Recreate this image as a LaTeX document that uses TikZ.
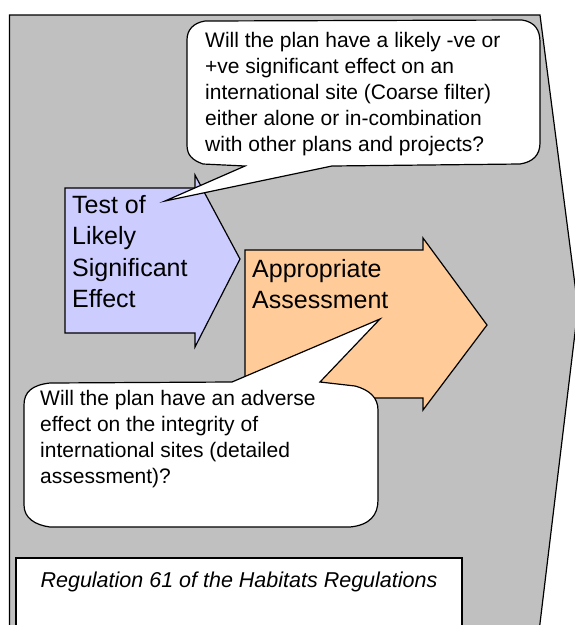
\documentclass[tikz,border=0pt]{standalone}
\usepackage{fontspec}
\setmainfont{Liberation Sans}

\definecolor{panelgray}{HTML}{C0C0C0}
\definecolor{lsebox}{HTML}{CCCCFF}
\definecolor{aabox}{HTML}{FFCC99}

\tikzset{
  outline/.style={draw=black, line width=1.2pt, line join=miter},
  qtext/.style={align=left, anchor=north west, inner sep=0pt,
    font=\fontsize{21}{26}\selectfont},
  steptext/.style={align=left, anchor=north west, inner sep=0pt,
    font=\fontsize{25}{31.5}\selectfont},
}

\begin{document}
\begin{tikzpicture}[x=1pt, y=-1pt]
\useasboundingbox (0,0) rectangle (575,625);
\clip (0,0) rectangle (575,625);

% big grey arrow behind everything
\draw [outline, fill=panelgray] (9.5,15) -- (540,15) -- (578,308) -- (538,640) -- (9.5,640) -- cycle;

% step 1 arrow
\draw [outline, fill=lsebox] (65,188) -- (195,188) -- (195,175) -- (240,259) -- (195,347) -- (195,333) -- (65,333) -- cycle;
\node[steptext] (lse) at (72,195) {Test of\\Likely\\Significant\\Effect};

% step 2 arrow
\draw [outline, fill=aabox] (245,250) -- (423,250) -- (423,238) -- (487,325) -- (423,410) -- (423,398) -- (245,398) -- cycle;
\node[steptext] (aa) at (252,259) {Appropriate\\Assessment};

% callout for step 1
\draw [outline, fill=white] (245,166) -- (203,164) .. controls (192,160) and (187,155) .. (187,145)
  -- (187,40) .. controls (187,30) and (193,23) .. (205,21) -- (522,20)
  .. controls (535,22) and (540,30) .. (540,42) -- (540,143)
  .. controls (540,155) and (533,162) .. (520,164) -- (332,166) -- (165,201) -- cycle;
\node[qtext] (lseq) at (205,32) {Will the plan have a likely -ve or\\+ve significant effect on an\\international site (Coarse filter)\\either alone or in-combination\\with other plans and projects?};

% callout for step 2
\draw [outline, fill=white] (232,382) -- (380,319) -- (320,382) -- (355,386)
  .. controls (370,390) and (378,398) .. (378,410) -- (378,500)
  .. controls (378,515) and (370,525) .. (350,527) -- (50,527)
  .. controls (35,525) and (24,518) .. (24,505) -- (24,405)
  .. controls (24,392) and (32,385) .. (50,383) -- cycle;
\node[qtext] (aaq) at (40,390) {Will the plan have an adverse\\effect on the integrity of\\international sites (detailed\\assessment)?};

% legal basis
\draw [outline, fill=white] (16,558) rectangle (462,640);
\node[anchor=base, inner sep=0pt, font=\fontsize{21.5}{26}\selectfont\itshape] (reg) at (239,587) {Regulation 61 of the Habitats Regulations};
\end{tikzpicture}
\end{document}
